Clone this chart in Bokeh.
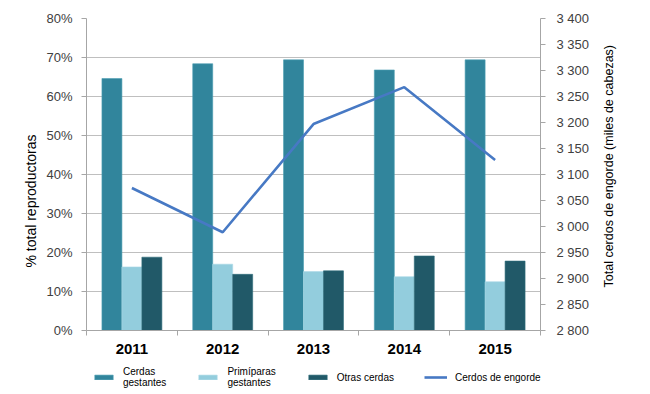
from bokeh.plotting import figure
from bokeh.layouts import column, row
from bokeh.models import Range1d, LinearAxis, FixedTicker, Legend, LegendItem, ColumnDataSource, Title
from bokeh.transform import dodge
from bokeh.embed import file_html
from bokeh.resources import INLINE

years = ["2011", "2012", "2013", "2014", "2015"]
cerdas_gestantes = [64.6, 68.4, 69.4, 66.8, 69.4]
primiparas_gestantes = [16.3, 17.0, 15.1, 13.8, 12.5]
otras_cerdas = [18.8, 14.4, 15.3, 19.1, 17.8]
cerdos_engorde = [3074, 2989, 3197, 3268, 3128]
left_ticks = [0, 10, 20, 30, 40, 50, 60, 70, 80]
right_ticks = [2800, 2850, 2900, 2950, 3000, 3050, 3100, 3150, 3200, 3250, 3300, 3350, 3400]
series_labels = ["Cerdas\ngestantes", "Primíparas\ngestantes", "Otras cerdas", "Cerdos de engorde"]
left_title = "% total reproductoras"
right_title = "Total cerdos de engorde (miles de cabezas)"

FONT = "Liberation Sans"
C1, C2, C3, C4 = "#31859C", "#93CDDD", "#215968", "#4779C4"
TOP, BOTTOM = 18, 30
xc = [i + 0.5 for i in range(len(years))]
src = ColumnDataSource(dict(x=xc, cg=cerdas_gestantes, pg=primiparas_gestantes,
                            oc=otras_cerdas, ce=cerdos_engorde))


def blank(width, height, **kw):
    f = figure(width=width, height=height, x_range=Range1d(0, 1), y_range=Range1d(0, 1),
               output_backend="svg", toolbar_location=None, x_axis_type=None, y_axis_type=None,
               **kw)
    f.outline_line_color = None
    f.xgrid.visible = False
    f.ygrid.visible = False
    return f


def side_title(f, text, size, offset):
    t = Title(text=text, align="left", text_font=FONT, text_font_size=size,
              text_font_style="normal", text_color="#000000", standoff=0, offset=offset)
    f.add_layout(t, "left")


p = figure(width=557, height=360, x_range=Range1d(0, len(years)), y_range=Range1d(0, 80),
           output_backend="svg", toolbar_location=None,
           min_border_left=46, min_border_right=57, min_border_top=TOP, min_border_bottom=BOTTOM)
p.extra_y_ranges = {"right": Range1d(2800, 3400)}
p.outline_line_color = None

bw = 0.22
p.vbar(x=dodge("x", -bw, range=p.x_range), top="cg", width=bw, bottom=0, source=src,
       fill_color=C1, line_color="#4B9DB2", line_width=0.6)
p.vbar(x=dodge("x", 0, range=p.x_range), top="pg", width=bw, bottom=0, source=src,
       fill_color=C2, line_color="#A9D8E5", line_width=0.6)
p.vbar(x=dodge("x", bw, range=p.x_range), top="oc", width=bw, bottom=0, source=src,
       fill_color=C3, line_color="#2E6B7B", line_width=0.6)
p.line(x="x", y="ce", source=src, y_range_name="right", line_color=C4, line_width=2.6)

grid_color = "#BFBFBF"
axis_color = "#A6A6A6"
p.xgrid.visible = False
p.ygrid.ticker = FixedTicker(ticks=left_ticks)
p.ygrid.grid_line_color = grid_color
p.ygrid.grid_line_width = 1.2

# left axis
ya = p.yaxis[0]
ya.ticker = FixedTicker(ticks=left_ticks)
ya.major_label_overrides = {v: f"{v}%" for v in left_ticks}
ya.major_label_text_font = FONT
ya.major_label_text_font_size = "13px"
ya.major_label_text_color = "#404040"
ya.major_label_standoff = 9
ya.major_tick_out = 5
ya.major_tick_in = 0
ya.minor_tick_line_color = None
ya.axis_line_color = axis_color
ya.major_tick_line_color = axis_color

# right axis
ra = LinearAxis(y_range_name="right", ticker=FixedTicker(ticks=right_ticks))
ra.major_label_overrides = {v: f"{v // 1000} {v % 1000:03d}" for v in right_ticks}
ra.major_label_text_font = FONT
ra.major_label_text_font_size = "13px"
ra.major_label_text_color = "#404040"
ra.major_label_standoff = 11
ra.major_tick_out = 5
ra.major_tick_in = 0
ra.minor_tick_line_color = None
ra.axis_line_color = axis_color
ra.major_tick_line_color = axis_color
p.add_layout(ra, "right")

# bottom axis
xa = p.xaxis[0]
xa.ticker = FixedTicker(ticks=xc, minor_ticks=list(range(len(years) + 1)))
xa.major_label_overrides = {x: y for x, y in zip(xc, years)}
xa.major_label_text_font = FONT
xa.major_label_text_font_style = "bold"
xa.major_label_text_font_size = "15px"
xa.major_label_text_color = "#000000"
xa.major_label_standoff = 7
xa.major_tick_line_color = None
xa.minor_tick_line_color = axis_color
xa.minor_tick_out = 5
xa.minor_tick_in = 0
xa.axis_line_color = axis_color

# axis titles (both read bottom-to-top)
q0 = blank(40, 360, min_border_left=38, min_border_right=0, min_border_top=TOP, min_border_bottom=BOTTOM)
side_title(q0, left_title, "14px", 63)
q2 = blank(53, 360, min_border_left=18, min_border_right=0, min_border_top=TOP, min_border_bottom=BOTTOM)
side_title(q2, right_title, "12.5px", 43)

# legend strip
q = blank(650, 34, min_border_left=0, min_border_right=0, min_border_top=0, min_border_bottom=0)
l1 = q.vbar(x=[5], top=[0], width=0.1, fill_color=C1, line_color="#4B9DB2", line_width=0.6)
l2 = q.vbar(x=[5], top=[0], width=0.1, fill_color=C2, line_color="#A9D8E5", line_width=0.6)
l3 = q.vbar(x=[5], top=[0], width=0.1, fill_color=C3, line_color="#2E6B7B", line_width=0.6)
l4 = q.line(x=[5, 6], y=[0, 0], line_color=C4, line_width=2.6)

legend = Legend(items=[LegendItem(label=lab, renderers=[r])
                       for lab, r in zip(series_labels, [l1, l2, l3, l4])],
                orientation="horizontal", location=(92, 6))
legend.label_text_font = FONT
legend.label_text_font_size = "10px"
legend.label_text_color = "#000000"
legend.glyph_width = 23
legend.glyph_height = 6
legend.label_standoff = 8
legend.spacing = 30
legend.padding = 0
legend.margin = 0
legend.border_line_color = None
legend.background_fill_alpha = 0
q.add_layout(legend)

layout = column(row(q0, p, q2, spacing=0), q, spacing=0)
open("out.html", "w").write(file_html(layout, INLINE))
